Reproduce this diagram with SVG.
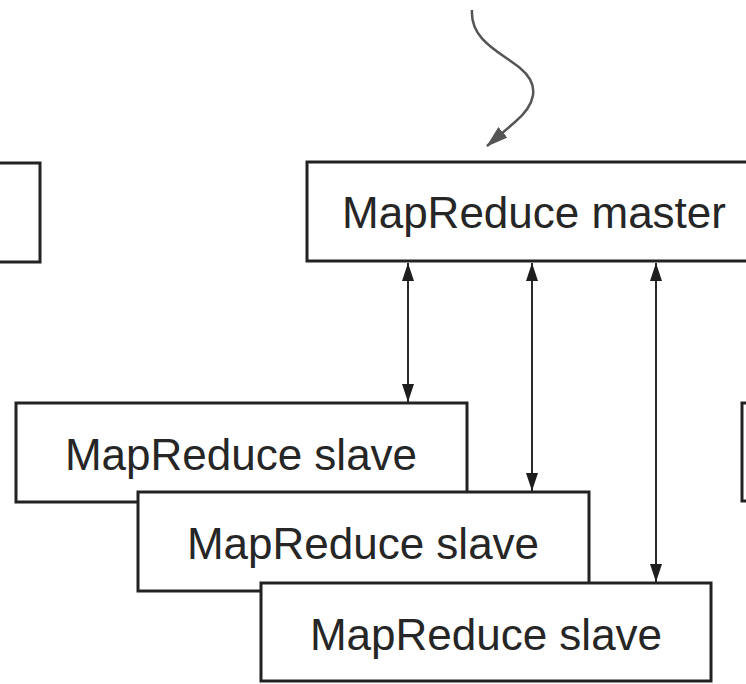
<svg xmlns="http://www.w3.org/2000/svg" width="746" height="684" viewBox="0 0 746 684">
  <defs>
    <style>
      .box { fill: #ffffff; stroke: #222222; stroke-width: 3; }
      .label { font-family: "Liberation Sans", Arial, sans-serif; font-size: 44px; fill: #262626; text-anchor: middle; }
      .link { stroke: #2a2a2a; stroke-width: 2; fill: none; }
      .curve { stroke: #555555; stroke-width: 2.5; fill: none; }
    </style>
    <marker id="tip" viewBox="0 0 18 12" refX="18" refY="6" markerWidth="18" markerHeight="12" markerUnits="userSpaceOnUse" orient="auto-start-reverse">
      <path d="M0,0 L18,6 L0,12 Z" fill="#1e1e1e"/>
    </marker>
    <marker id="tipGray" viewBox="0 0 22 14" refX="21" refY="7" markerWidth="22" markerHeight="14" markerUnits="userSpaceOnUse" orient="auto">
      <path d="M0,0 L22,7 L0,14 Z" fill="#555555"/>
    </marker>
  </defs>

  <rect width="746" height="684" fill="#ffffff"/>

  <!-- neighbouring nodes cut at the edges -->
  <g id="node-left">
    <rect class="box" x="-20" y="163" width="60" height="99"/>
  </g>
  <g id="node-right">
    <rect class="box" x="742" y="403" width="30" height="98"/>
  </g>

  <g id="node-master">
    <rect class="box" x="307" y="162" width="460" height="99"/>
    <text class="label" x="534" y="228">MapReduce master</text>
  </g>

  <g id="node-slave1">
    <rect class="box" x="16" y="403" width="451" height="99"/>
    <text class="label" x="241" y="470">MapReduce slave</text>
  </g>
  <g id="node-slave2">
    <rect class="box" x="138" y="492" width="451" height="99"/>
    <text class="label" x="363" y="559">MapReduce slave</text>
  </g>
  <g id="node-slave3">
    <rect class="box" x="261" y="583" width="450" height="98"/>
    <text class="label" x="486" y="650">MapReduce slave</text>
  </g>

  <g id="connectors">
    <path class="curve" d="M472,10 C470,40 500,52 520,68 C542,86 534,106 515,122 L487,146" marker-end="url(#tipGray)"/>
    <line class="link" x1="408" y1="263" x2="408" y2="402" marker-start="url(#tip)" marker-end="url(#tip)"/>
    <line class="link" x1="532" y1="263" x2="532" y2="491" marker-start="url(#tip)" marker-end="url(#tip)"/>
    <line class="link" x1="656" y1="263" x2="656" y2="582" marker-start="url(#tip)" marker-end="url(#tip)"/>
  </g>
</svg>
